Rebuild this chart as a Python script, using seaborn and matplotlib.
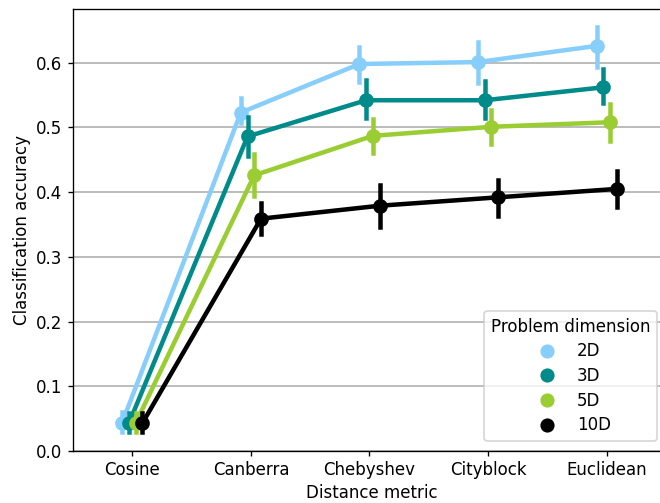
import matplotlib
matplotlib.use("Agg")
import matplotlib.pyplot as plt
from matplotlib.lines import Line2D
import numpy as np
import pandas as pd
import seaborn as sns

# Distance metrics on the x axis
metrics = ["Cosine", "Canberra", "Chebyshev", "Cityblock", "Euclidean"]
dimensions = ["2D", "3D", "5D", "10D"]
colors = ["#87CEFA", "#008B8B", "#9ACD32", "#000000"]

# Mean classification accuracy per dimension (one value per metric)
acc_2d = [0.044, 0.523, 0.598, 0.601, 0.626]
acc_3d = [0.043, 0.486, 0.542, 0.542, 0.562]
acc_5d = [0.043, 0.426, 0.487, 0.501, 0.508]
acc_10d = [0.043, 0.359, 0.379, 0.392, 0.405]

# Lower / upper ends of the confidence intervals
lo_2d = [0.029, 0.507, 0.570, 0.568, 0.594]
hi_2d = [0.060, 0.546, 0.624, 0.632, 0.655]
lo_3d = [0.029, 0.456, 0.514, 0.514, 0.538]
hi_3d = [0.059, 0.516, 0.573, 0.571, 0.590]
lo_5d = [0.029, 0.394, 0.461, 0.474, 0.479]
hi_5d = [0.059, 0.459, 0.513, 0.527, 0.536]
lo_10d = [0.029, 0.335, 0.346, 0.363, 0.377]
hi_10d = [0.058, 0.383, 0.411, 0.419, 0.433]

means = {"2D": acc_2d, "3D": acc_3d, "5D": acc_5d, "10D": acc_10d}
lows = {"2D": lo_2d, "3D": lo_3d, "5D": lo_5d, "10D": lo_10d}
highs = {"2D": hi_2d, "3D": hi_3d, "5D": hi_5d, "10D": hi_10d}

# Long-form table: the median of (low, mean, high) gives the point,
# the min/max give the interval
rows = []
for dim in dimensions:
    for i, m in enumerate(metrics):
        for v in (lows[dim][i], means[dim][i], highs[dim][i]):
            rows.append({"Distance metric": m, "Problem dimension": dim,
                         "Classification accuracy": v})
df = pd.DataFrame(rows)

plt.rcParams["xtick.major.size"] = 2.8
plt.rcParams["ytick.major.size"] = 2.8
plt.rcParams["xtick.major.pad"] = 3.0
plt.rcParams["axes.labelpad"] = 3.0

W, H = 660, 503
fig = plt.figure(figsize=(W / 120, H / 120), dpi=120)
ax = fig.add_axes([73 / W, (H - 451) / H, (670 - 73) / W, (451 - 9) / H])
ax.set_axisbelow(True)
ax.yaxis.grid(True, color="#b0b0b0", linewidth=1.0)

sns.pointplot(
    data=df, x="Distance metric", y="Classification accuracy",
    hue="Problem dimension", order=metrics, hue_order=dimensions,
    palette=colors, estimator="median",
    errorbar=lambda v: (v.min(), v.max()),
    dodge=0.17, ax=ax, legend=False,
)

ax.set_xlim(-0.5, 4.5 + 4 / 118.5)
ax.set_ylim(0, 0.683)
ax.set_yticks(np.arange(0, 0.61, 0.1))

handles = [Line2D([], [], marker="o", linestyle="", color=c, markersize=7.5)
           for c in colors]
ax.legend(handles, dimensions, title="Problem dimension",
          loc="lower right", bbox_to_anchor=(657 / W, 1 - 441 / H),
          bbox_transform=fig.transFigure, borderaxespad=0,
          labelspacing=0.4)

fig.savefig("out.png", dpi=120)
